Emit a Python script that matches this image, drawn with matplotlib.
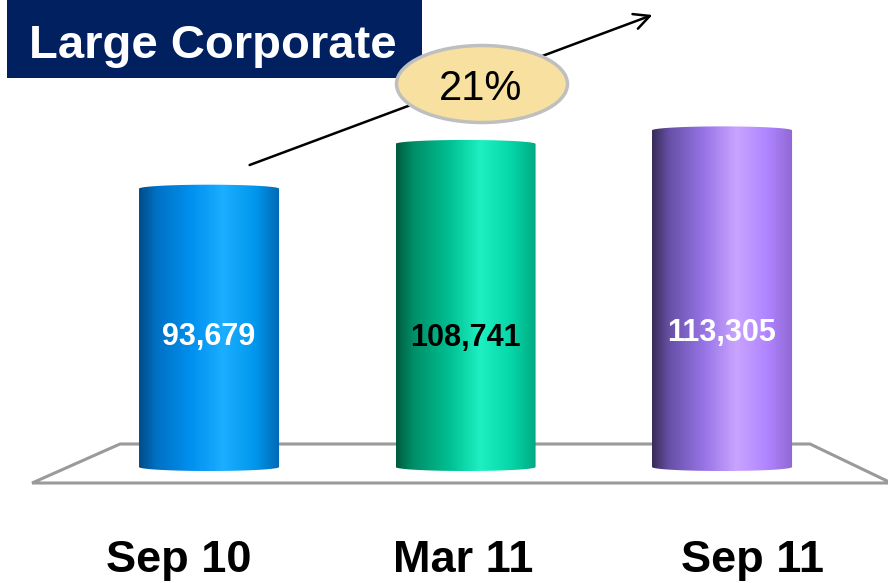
import numpy as np
import matplotlib
matplotlib.use("Agg")
import matplotlib.pyplot as plt
from matplotlib.colors import LinearSegmentedColormap
from matplotlib.patches import PathPatch, Polygon, Rectangle, Ellipse, FancyArrowPatch
from matplotlib.path import Path

plt.rcParams['font.family'] = ['Liberation Sans', 'DejaVu Sans']

# ------------------------------- DATA ---------------------------------------
categories = ["Sep 10", "Mar 11", "Sep 11"]
values = [93679, 108741, 113305]
value_labels = ["93,679", "108,741", "113,305"]
growth_label = "21%"
title = "Large Corporate"

# ------------------------------- STYLE --------------------------------------
# horizontal shading of each cylinder (dark left edge, highlight right of centre)
stops = [0.0, 0.12, 0.38, 0.6, 0.82, 1.0]
bar_shades = [
    ["#004C88", "#0070C4", "#0092F0", "#1CAEFF", "#0098EE", "#0068B4"],
    ["#005A3E", "#008E68", "#00C092", "#1EF0C2", "#06D6A8", "#00A880"],
    ["#382A58", "#6650A6", "#9A76E8", "#C9A4FF", "#B084FF", "#9068D4"],
]
label_colors = ["white", "black", "white"]
label_y = [43800, 43400, 45100]      # vertical spot of the value text on each cylinder
cat_label_x = [-0.117, 0.99, 2.117]  # category labels sit a bit wider than the bars

half_w = 0.273      # cylinder half width (category units)
cap_h = 1350        # half height of the elliptical ends (value units)

# ------------------------------- FIGURE -------------------------------------
fig = plt.figure(figsize=(8.88, 5.83), dpi=100)
ax = fig.add_axes([0, 0, 1, 1])
ax.set_xlim(-0.815, 2.647)
ax.set_ylim(-39050, 157200)
ax.axis("off")

# floor of the 3D chart
floor = Polygon([(-0.690, -5390), (2.66, -5390), (2.343, 7740), (-0.347, 7740)],
                closed=True, facecolor="white", edgecolor="#9A9A9A", lw=2.2, zorder=1)
ax.add_patch(floor)

t_top = np.linspace(np.pi, 0, 60)
t_bot = np.linspace(0, -np.pi, 60)

for i, v in enumerate(values):
    c = i
    xs = np.concatenate([[c - half_w], c + half_w * np.cos(t_top), [c + half_w],
                         c + half_w * np.cos(t_bot)])
    ys = np.concatenate([[0], v + cap_h * np.sin(t_top), [0], cap_h * np.sin(t_bot)])
    body = PathPatch(Path(np.column_stack([xs, ys])), facecolor="none",
                     edgecolor="none", zorder=2)
    ax.add_patch(body)

    cmap = LinearSegmentedColormap.from_list(f"cyl{i}", list(zip(stops, bar_shades[i])))
    grad = np.linspace(0, 1, 256).reshape(1, -1)
    im = ax.imshow(grad, cmap=cmap, aspect="auto", interpolation="bicubic",
                   extent=[c - half_w, c + half_w, -cap_h, v + cap_h], zorder=2)
    im.set_clip_path(body)

    ax.text(c, label_y[i], value_labels[i], ha="center", va="center",
            fontsize=22, fontweight="bold", color=label_colors[i], zorder=3)
    ax.text(cat_label_x[i], -35340, categories[i], ha="center", va="baseline",
            fontsize=32.5, fontweight="bold", color="black", zorder=3)

# ------------------------------- ANNOTATIONS --------------------------------
ov = fig.add_axes([0, 0, 1, 1], zorder=5)
ov.set_xlim(0, 888)
ov.set_ylim(583, 0)
ov.axis("off")
ov.patch.set_alpha(0)

ov.add_patch(Rectangle((7, 0), 415, 78, facecolor="#002060", edgecolor="none"))
ov.text(213, 58, title, ha="center", va="baseline", fontsize=34,
        fontweight="bold", color="white")

arrow = FancyArrowPatch((247, 166), (655, 14), arrowstyle="->", mutation_scale=28,
                        lw=1.8, color="black", zorder=1)
ov.add_patch(arrow)

ov.add_patch(Ellipse((482, 84), 171, 77, facecolor="#F8E0A0", edgecolor="#BFBFBF",
                     lw=2.5, zorder=2))
ov.text(481, 100, growth_label, ha="center", va="baseline", fontsize=30,
        color="black", zorder=3)

fig.savefig("out.png", dpi=100)
plt.close(fig)
